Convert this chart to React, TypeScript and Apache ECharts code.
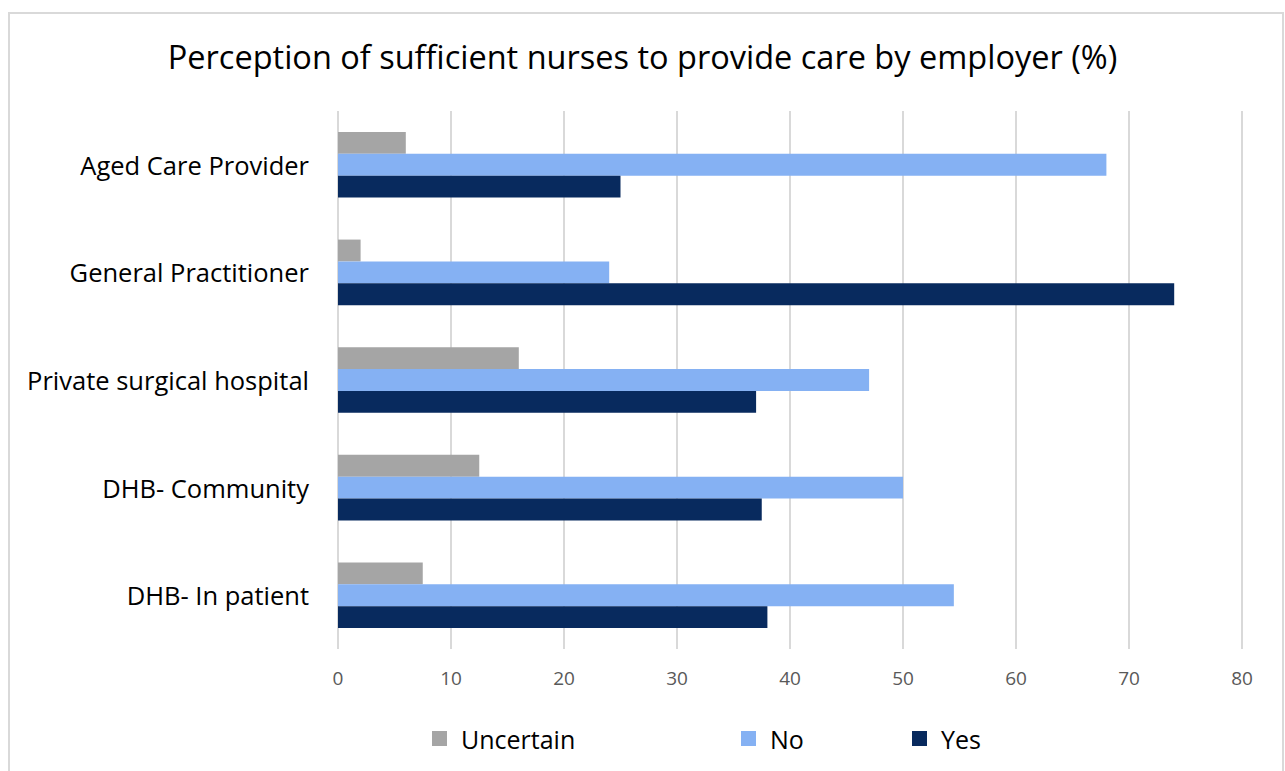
import React, { useEffect, useRef } from "react";
import * as echarts from "echarts";

const categories = [
  "DHB- In patient",
  "DHB- Community",
  "Private surgical hospital",
  "General Practitioner",
  "Aged Care Provider",
];
const uncertain = [7.5, 12.5, 16, 2, 6];
const no = [54.5, 50, 47, 24, 68];
const yes = [38, 37.5, 37, 74, 25];
const xTicks = [0, 10, 20, 30, 40, 50, 60, 70, 80];

const FONT = "'Open Sans', Lato, sans-serif";

export default function App() {
  const ref = useRef<HTMLDivElement>(null);
  useEffect(() => {
    if (!ref.current) return;
    const chart = echarts.init(ref.current, undefined, { renderer: "svg" });
    const legendItem = (name: string, left: number) => ({
      data: [name],
      left,
      top: 726,
      icon: "rect",
      itemWidth: 15,
      itemHeight: 15,
      itemGap: 0,
      textStyle: { fontFamily: FONT, fontSize: 25, color: "#000", padding: [0, 0, 0, 9] },
      selectedMode: false,
      padding: 0,
    });
    chart.setOption({
      animation: false,
      backgroundColor: "#fff",
      title: {
        text: "Perception of sufficient nurses to provide care by employer (%)",
        left: "center",
        top: 35,
        textStyle: { fontFamily: FONT, fontSize: 32.5, fontWeight: "normal", color: "#000" },
      },
      graphic: [
        {
          type: "rect",
          shape: { x: 9, y: 13, width: 1274, height: 800 },
          style: { fill: "none", stroke: "#d9d9d9", lineWidth: 2 },
          silent: true,
        },
      ],
      legend: [
        legendItem("Uncertain", 432),
        legendItem("No", 741),
        legendItem("Yes", 912),
      ],
      grid: { left: 338, right: 43, top: 111, bottom: 122, containLabel: false },
      xAxis: {
        type: "value",
        min: xTicks[0],
        max: xTicks[xTicks.length - 1],
        interval: 10,
        axisLine: { show: false },
        axisTick: { show: false },
        axisLabel: { fontFamily: FONT, fontSize: 19, color: "#595959", margin: 19 },
        splitLine: { lineStyle: { color: "#d9d9d9", width: 2 } },
      },
      yAxis: {
        type: "category",
        data: categories,
        axisLine: { show: false },
        axisTick: { show: false },
        axisLabel: { fontFamily: FONT, fontSize: 25.5, color: "#000", margin: 29 },
        splitLine: { show: false },
      },
      series: [
        {
          name: "Uncertain",
          type: "bar",
          data: uncertain,
          itemStyle: { color: "#a5a5a5" },
          barGap: "0%",
          barCategoryGap: "39%",
        },
        {
          name: "No",
          type: "bar",
          data: no,
          itemStyle: { color: "#85b1f3" },
          barGap: "0%",
          barCategoryGap: "39%",
        },
        {
          name: "Yes",
          type: "bar",
          data: yes,
          itemStyle: { color: "#082a5e" },
          barGap: "0%",
          barCategoryGap: "39%",
        },
      ],
    });
    return () => chart.dispose();
  }, []);
  return (
    <div
      ref={ref}
      style={{ position: "fixed", left: 0, top: 0, width: 1285, height: 771 }}
    />
  );
}
